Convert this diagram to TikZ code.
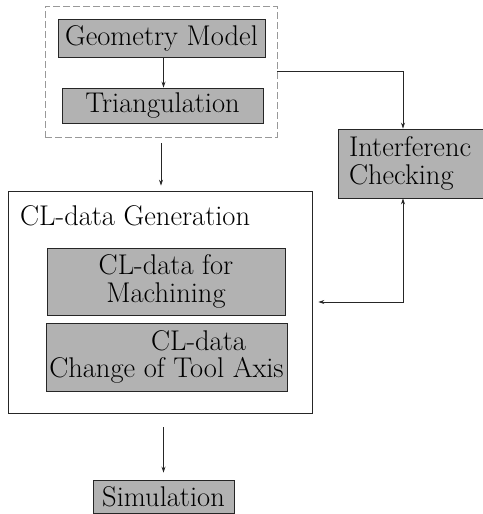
\documentclass[tikz,border=0pt]{standalone}
\usetikzlibrary{arrows.meta}
\newcommand\mydiafont{\fontsize{28.5}{27.5}\selectfont}
\begin{document}
\begin{tikzpicture}[x=1pt,y=-1pt,
  box/.style={draw=black!85, line width=0.9pt, fill=black!30, inner sep=0pt, align=center, font=\mydiafont},
  plainbox/.style={draw=black!85, line width=0.8pt, inner sep=0pt},
  dashbox/.style={draw=black!40, line width=0.6pt, dash pattern=on 7pt off 3pt, inner sep=0pt},
  tip/.tip={Stealth[length=6pt,width=4pt]},
  arr/.style={draw=black!85, line width=0.7pt, -tip},
]
\useasboundingbox (0,0) rectangle (482,514);
\node[dashbox, minimum width=232, minimum height=131] (top) at (161,71.5) {};
\node[box, minimum width=207, minimum height=38] (geo) at (161.5,38) {Geometry Model};
\node[box, minimum width=201, minimum height=35] (tri) at (162.5,105.5) {Triangulation};
\node[box, minimum width=152, minimum height=69, text width=130, align=left] (intf) at (414,163.5) {Interferenc\\Checking};
\node[plainbox, minimum width=304, minimum height=222] (gen) at (160,302) {};
\node[anchor=base west, font=\mydiafont, inner sep=0pt] (gentitle) at (20,225) {CL-data Generation};
\node[box, minimum width=238, minimum height=67] (m1) at (166,281.5) {CL-data for\\Machining};
\node[box, minimum width=241, minimum height=68] (m2) at (166.5,357) {\hspace*{64pt}CL-data\\Change of Tool Axis};
\node[box, minimum width=141, minimum height=33] (sim) at (163.5,496.5) {Simulation};
\draw[arr] ([xshift=2pt]geo.south) -- ([xshift=2pt]geo.south |- tri.north);
\draw[arr, shorten <=6pt, shorten >=5pt] (top.south) -- (top.south |- gen.north);
\draw[arr] (top.east) -| ([xshift=-11pt]intf.north);
\draw[arr, tip-tip] ([xshift=-11pt]intf.south) |- ([xshift=6pt]gen.east);
\draw[arr, shorten <=14pt, shorten >=7pt] (gen.south -| sim.north) -- (sim.north);
\end{tikzpicture}
\end{document}
